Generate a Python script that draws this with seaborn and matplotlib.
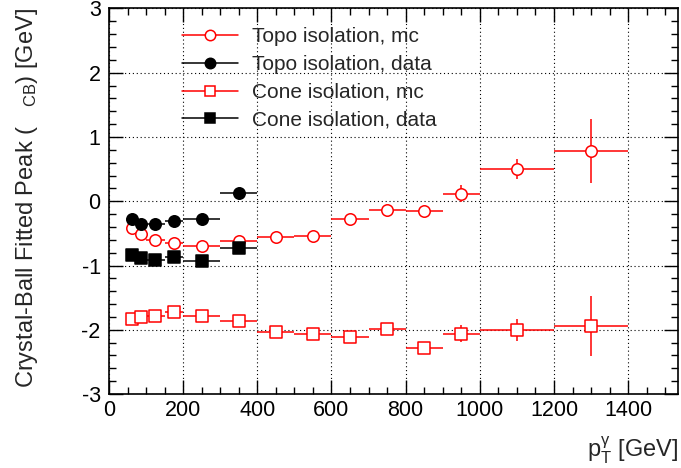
import numpy as np
import pandas as pd
import matplotlib
matplotlib.use("Agg")
import matplotlib.pyplot as plt
from matplotlib.lines import Line2D
from matplotlib.ticker import MultipleLocator
import seaborn as sns

# ---- data ----
bin_edges = [50, 75, 100, 150, 200, 300, 400, 500, 600, 700, 800, 900, 1000, 1200, 1400]

topo_mc = [-0.41, -0.51, -0.61, -0.65, -0.70, -0.62, -0.56, -0.54, -0.28, -0.14, -0.15, 0.12, 0.50, 0.78]
topo_mc_err = [0.02, 0.02, 0.02, 0.02, 0.02, 0.02, 0.02, 0.02, 0.02, 0.03, 0.03, 0.13, 0.15, 0.50]

topo_data = [-0.28, -0.35, -0.35, -0.30, -0.27, 0.135]
topo_data_err = [0.02, 0.02, 0.02, 0.02, 0.03, 0.05]

cone_mc = [-1.83, -1.80, -1.78, -1.73, -1.78, -1.87, -2.03, -2.07, -2.12, -1.99, -2.28, -2.06, -2.00, -1.945]
cone_mc_err = [0.02, 0.02, 0.02, 0.02, 0.02, 0.02, 0.02, 0.02, 0.02, 0.03, 0.04, 0.13, 0.17, 0.47]

cone_data = [-0.84, -0.89, -0.91, -0.87, -0.93, -0.72]
cone_data_err = [0.02, 0.02, 0.02, 0.02, 0.03, 0.06]

labels = ["Topo isolation, mc", "Topo isolation, data", "Cone isolation, mc", "Cone isolation, data"]

edges = np.array(bin_edges, dtype=float)
centers = 0.5 * (edges[:-1] + edges[1:])
half = 0.5 * (edges[1:] - edges[:-1])

sns.set_theme(style="ticks")
plt.rcParams["font.family"] = ["Liberation Sans", "DejaVu Sans"]
plt.rcParams["mathtext.fontset"] = "custom"
plt.rcParams["mathtext.rm"] = "Liberation Sans"
plt.rcParams["mathtext.it"] = "Liberation Sans"
plt.rcParams["axes.unicode_minus"] = False

fig = plt.figure(figsize=(6.81, 4.68), dpi=100)
ax = fig.add_axes([0.160, 0.158, 0.836, 0.824])

series = [
    (topo_mc, topo_mc_err, "o", "red", "white"),
    (topo_data, topo_data_err, "o", "black", "black"),
    (cone_mc, cone_mc_err, "s", "red", "white"),
    (cone_data, cone_data_err, "s", "black", "black"),
]

handles = []
for (vals, errs, mk, col, fc), lab in zip(series, labels):
    n = len(vals)
    x = centers[:n]
    ax.errorbar(x, vals, xerr=half[:n], yerr=errs, fmt="none", ecolor=col,
                elinewidth=1.1, capsize=0, zorder=2)
    df = pd.DataFrame({"x": x, "y": vals})
    sns.scatterplot(data=df, x="x", y="y", ax=ax, marker=mk, s=68,
                    facecolor=fc, edgecolor=col, linewidth=1.1, zorder=3, legend=False)
    handles.append(Line2D([0], [0], color=col, lw=1.1, marker=mk, markersize=7.5,
                          markerfacecolor=fc, markeredgecolor=col, markeredgewidth=1.1))

ax.set_xlim(0, 1535)
ax.set_ylim(-3, 3)
ax.xaxis.set_major_locator(MultipleLocator(200))
ax.xaxis.set_minor_locator(MultipleLocator(50))
ax.yaxis.set_major_locator(MultipleLocator(1))
ax.yaxis.set_minor_locator(MultipleLocator(0.2))
ax.tick_params(which="both", direction="in", top=True, right=True, labelsize=15.5, colors="black")
ax.tick_params(which="major", length=10, width=1)
ax.tick_params(which="minor", length=5, width=1)
ax.tick_params(axis="x", which="major", pad=4)
ax.tick_params(axis="y", which="major", pad=6)
for sp in ax.spines.values():
    sp.set_color("black")
    sp.set_linewidth(1.2)
ax.grid(True, which="major", color="black", linestyle=(0, (1, 2.5)), linewidth=0.8)
ax.set_axisbelow(True)

ax.set_xlabel(r"p$_{\rm T}^{\gamma}$ [GeV]", fontsize=17, loc="right", labelpad=10)
ax.set_ylabel(r"Crystal-Ball Fitted Peak (   $_{\rm CB}$) [GeV]", fontsize=17, loc="top", labelpad=30)

ax.legend(handles, labels, loc="upper left", bbox_to_anchor=(0.11, 0.978), frameon=False,
          fontsize=15, handlelength=2.7, handletextpad=0.67, labelspacing=0.42, borderpad=0)

fig.savefig("out.png", dpi=100)
